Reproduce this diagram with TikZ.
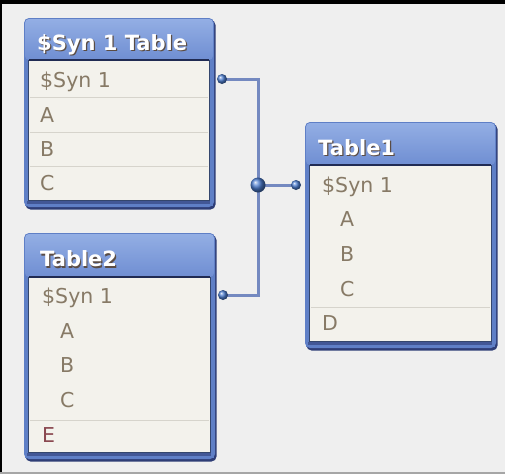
\documentclass[tikz,border=0pt]{standalone}
\usepackage{fontspec}
\setmainfont{DejaVu Sans}
\definecolor{bgc}{HTML}{EFEFEF}
\definecolor{bodyc}{HTML}{F3F2EC}
\definecolor{hdtop}{HTML}{93AEE4}
\definecolor{hdbot}{HTML}{6F8ED2}
\definecolor{frame}{HTML}{5F7FC6}
\definecolor{shadowc}{HTML}{2E3D76}
\definecolor{sepc}{HTML}{D6D4CC}
\definecolor{rowtxt}{HTML}{877A66}
\definecolor{etxt}{HTML}{8A4850}
\definecolor{linkc}{HTML}{7489C0}
\definecolor{dotc}{HTML}{4C7DD0}
\definecolor{ttlshadow}{HTML}{5A4C44}
\tikzset{
  rowtext/.style={anchor=base west, inner sep=0pt, text=rowtxt, font=\fontsize{20.5}{24}\selectfont},
  titletext/.style={anchor=base west, inner sep=0pt, text=white, font=\fontsize{21}{25}\selectfont\bfseries},
  titleshadow/.style={titletext, text=ttlshadow},
  sepline/.style={draw=sepc, line width=1pt},
  link/.style={draw=linkc, line width=3pt},
  smalldot/.style={ball color=dotc, draw=none},
}
% #1 x0, #2 y0, #3 x1, #4 y1, #5 header bottom
\newcommand\dbbox[5]{%
  \fill[shadowc, rounded corners=5pt] (#1+1.5,#2+2) rectangle (#3+1.5,#4+2.5);
  \fill[frame, rounded corners=5pt] (#1,#2) rectangle (#3,#4);
  \shade[top color=hdtop, bottom color=hdbot, rounded corners=4pt] (#1+1,#2+1) rectangle (#3-1,#5);
  \fill[frame] (#1+1,#5) rectangle (#3-1,#4-1);
  \fill[shadowc!60!frame] (#1+3,#4-6) rectangle (#3-4,#4-3);
  \filldraw[fill=bodyc, draw=frame!55!black, line width=0.9pt] (#1+4.5,#5) rectangle (#3-5,#4-7);
  \draw[shadowc!70!black, line width=1.6pt] (#1+4.5,#5) -- (#3-5,#5);
}
\begin{document}
\begin{tikzpicture}[x=1pt,y=-1pt]
\useasboundingbox (0,0) rectangle (505,474);
\fill[bgc] (0,0) rectangle (505,474);
\fill[black] (0,0) rectangle (505,3.5);
\fill[black] (0,0) rectangle (2,474);
\fill[gray!70] (0,471.5) rectangle (505,474);

% ---- $Syn 1 Table
\dbbox{24}{18}{214}{207}{60}
\draw[sepline] (29.5,97) -- (208,97);
\draw[sepline] (29.5,132) -- (208,132);
\draw[sepline] (29.5,166) -- (208,166);
\node[titleshadow] (t0s) at (38.2,51.2) {\$Syn 1 Table};
\node[titletext] (t0) at (37,50) {\$Syn 1 Table};
\node[rowtext] (t0r1) at (40,87) {\$Syn 1};
\node[rowtext] (t0r2) at (40,122) {A};
\node[rowtext] (t0r3) at (40,156) {B};
\node[rowtext] (t0r4) at (40,190) {C};

% ---- Table2
\dbbox{24}{233}{215}{459}{277}
\draw[sepline] (29.5,420) -- (209,420);
\node[titleshadow] (t2s) at (41.2,268) {Table2};
\node[titletext] (t2) at (40,266.8) {Table2};
\node[rowtext] (t2r1) at (42,303) {\$Syn 1};
\node[rowtext] (t2r2) at (60,338) {A};
\node[rowtext] (t2r3) at (60,372) {B};
\node[rowtext] (t2r4) at (60,407) {C};
\node[rowtext, text=etxt] (t2r5) at (42,442) {E};

% ---- Table1
\dbbox{305}{122}{496}{348}{165}
\draw[sepline] (310.5,307) -- (490,307);
\node[titleshadow] (t1s) at (319.2,156.2) {Table1};
\node[titletext] (t1) at (318,155) {Table1};
\node[rowtext] (t1r1) at (322,192) {\$Syn 1};
\node[rowtext] (t1r2) at (340,226) {A};
\node[rowtext] (t1r3) at (340,261) {B};
\node[rowtext] (t1r4) at (340,296) {C};
\node[rowtext] (t1r5) at (322,330) {D};

% ---- connectors
\coordinate (p0) at (222,79);
\coordinate (p2) at (223,295);
\coordinate (p1) at (296,185);
\coordinate (j) at (258,185);
\draw[link] (p0) -| (j);
\draw[link] (p2) -| (j);
\draw[link] (j) -- (p1);
\shade[smalldot] (p0) circle (5);
\shade[smalldot] (p2) circle (5);
\shade[smalldot] (p1) circle (5);
\shade[smalldot] (j) circle (7.5);
\end{tikzpicture}
\end{document}
